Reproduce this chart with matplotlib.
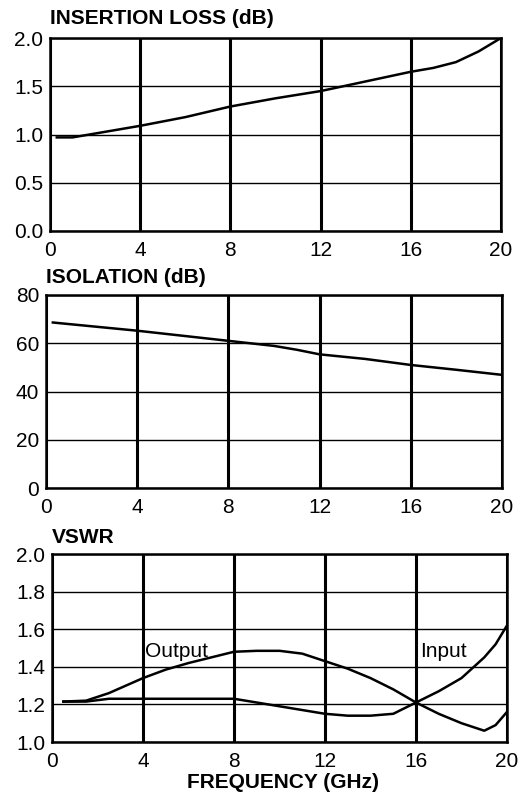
import matplotlib
matplotlib.use("Agg")
import matplotlib.pyplot as plt

plt.rcParams['font.family'] = ['Liberation Sans', 'DejaVu Sans']

freq_il = [0.3, 1, 2, 4, 6, 8, 10, 12, 14, 16, 17, 18, 19, 20]
insertion_loss = [0.97, 0.97, 1.01, 1.09, 1.18, 1.29, 1.375, 1.45, 1.55, 1.65, 1.69, 1.75, 1.86, 2.0]

freq_iso = [0.3, 4, 8, 10, 11, 12, 14, 16, 18, 20]
isolation = [68.6, 65.2, 61.0, 58.9, 57.3, 55.4, 53.5, 51.0, 49.0, 46.9]

freq_vswr = [0.5, 1.5, 2.5, 4, 5, 6, 7, 8, 9, 10, 11, 12, 13, 14, 15, 16, 17, 18, 19, 19.5, 20]
vswr_output = [1.215, 1.22, 1.26, 1.34, 1.385, 1.42, 1.45, 1.48, 1.485, 1.485, 1.47, 1.43,
               1.39, 1.34, 1.28, 1.21, 1.15, 1.10, 1.06, 1.09, 1.16]
vswr_input = [1.215, 1.215, 1.23, 1.23, 1.23, 1.23, 1.23, 1.23, 1.21, 1.19, 1.17, 1.15,
              1.14, 1.14, 1.15, 1.21, 1.27, 1.34, 1.45, 1.52, 1.62]

x_ticks = [0, 4, 8, 12, 16, 20]
il_ticks = [0.0, 0.5, 1.0, 1.5, 2.0]
iso_ticks = [0, 20, 40, 60, 80]
vswr_ticks = [1.0, 1.2, 1.4, 1.6, 1.8, 2.0]

W, H = 526, 801
fig = plt.figure(figsize=(W / 100, H / 100), dpi=100)


def make_ax(x0, x1, ytop, ybot):
    return fig.add_axes([x0 / W, 1 - ybot / H, (x1 - x0) / W, (ybot - ytop) / H])


def style(ax, yticks, ylim, yfmt):
    ax.set_xlim(0, 20)
    ax.set_ylim(*ylim)
    ax.set_xticks(x_ticks)
    ax.set_xticklabels([str(t) for t in x_ticks])
    ax.set_yticks(yticks)
    ax.set_yticklabels([yfmt(t) for t in yticks])
    ax.tick_params(length=0, labelsize=15, colors='black')
    ax.tick_params(axis='x', pad=7)
    ax.tick_params(axis='y', pad=5)
    for t in x_ticks:
        ax.axvline(t, color='black', lw=2.2, zorder=1)
    for t in yticks:
        ax.axhline(t, color='black', lw=1.0, zorder=1)
    for s in ax.spines.values():
        s.set_linewidth(1.8)
        s.set_color('black')
        s.set_zorder(3)


def title(ax, txt, gap_px, height_px):
    ax.text(0, 1 + gap_px / height_px, txt, transform=ax.transAxes, fontsize=15,
            fontweight='bold', ha='left', va='baseline')


ax1 = make_ax(50, 501, 38, 231)
style(ax1, il_ticks, (0, 2.0), lambda v: f"{v:.1f}")
ax1.plot(freq_il, insertion_loss, color='black', lw=1.8, zorder=4)
title(ax1, "INSERTION LOSS (dB)", 14, 193)

ax2 = make_ax(46, 502, 295, 488)
style(ax2, iso_ticks, (0, 80), lambda v: f"{v:d}")
ax2.plot(freq_iso, isolation, color='black', lw=1.8, zorder=4)
title(ax2, "ISOLATION (dB)", 12, 193)

ax3 = make_ax(52, 507, 554, 742)
style(ax3, vswr_ticks, (1.0, 2.0), lambda v: f"{v:.1f}")
ax3.plot(freq_vswr, vswr_output, color='black', lw=1.8, zorder=4)
ax3.plot(freq_vswr, vswr_input, color='black', lw=1.8, zorder=4)
title(ax3, "VSWR", 11, 188)
ax3.text(4.1, 1.48, "Output", fontsize=15, ha='left', va='center', zorder=5)
ax3.text(16.2, 1.48, "Input", fontsize=15, ha='left', va='center', zorder=5)

fig.text(283 / W, 1 - 783 / H, "FREQUENCY (GHz)", fontsize=15, fontweight='bold',
         ha='center', va='center')

fig.savefig("out.png", dpi=100)
